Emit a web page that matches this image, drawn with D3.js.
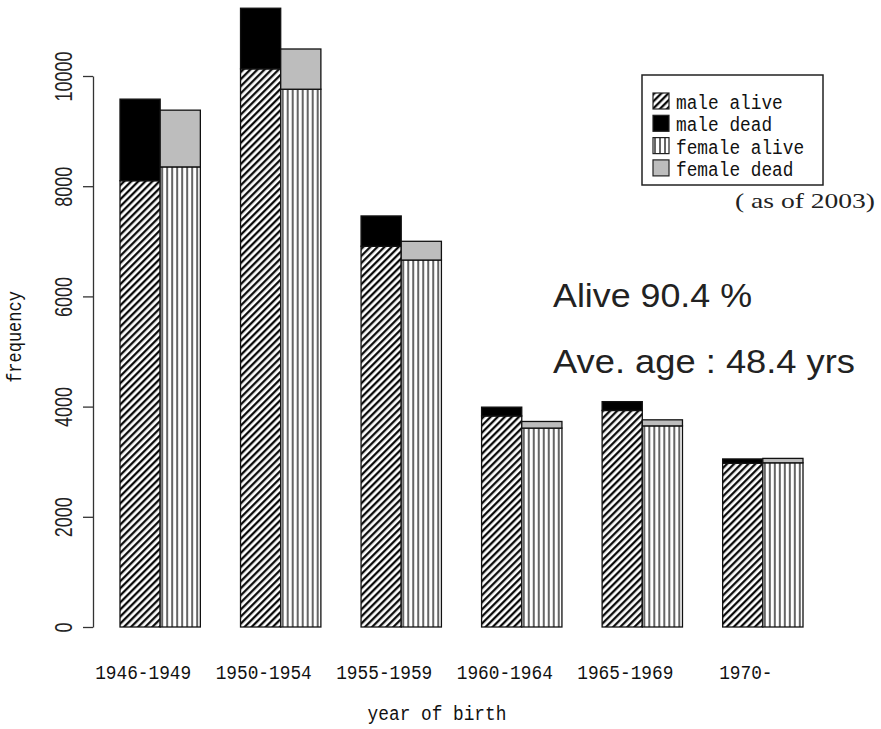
<!DOCTYPE html>
<html>
<head>
<meta charset="utf-8">
<script src="https://cdn.jsdelivr.net/npm/d3@7"></script>
<style>
  body { margin: 0; background: #fff; }
  svg { display: block; }
  .mono { font-family: "Liberation Mono", "DejaVu Sans Mono", monospace; fill: #111; }
  .sans { font-family: "Liberation Sans", Arial, sans-serif; fill: #222; }
</style>
</head>
<body>
<svg id="chart" width="881" height="729"></svg>
<script>
/*
  Birth cohort bar chart: male / female, alive / dead, stacked side by side
*/
const categories = ['1946-1949', '1950-1954', '1955-1959', '1960-1964', '1965-1969', '1970-'];
const maleAlive = [8100, 10130, 6910, 3830, 3930, 2970];
const maleDead = [1480, 1100, 550, 160, 160, 80];
const femaleAlive = [8350, 9760, 6660, 3610, 3650, 2980];
const femaleDead = [1030, 730, 340, 120, 110, 80];
const yTicks = [0, 2000, 4000, 6000, 8000, 10000];
const legendLabels = ['male alive', 'male dead', 'female alive', 'female dead'];
const legendFills = ['url(#diag)', '#000', 'url(#vert)', '#bdbdbd'];

const svg = d3.select('#chart');

// patterns for the hatched segments
const defs = svg.append('defs');
defs.append('pattern')
    .attr('id', 'diag')
    .attr('patternUnits', 'userSpaceOnUse')
    .attr('width', 5).attr('height', 10)
    .attr('patternTransform', 'rotate(45)')
  .call(p => p.append('rect').attr('width', 5).attr('height', 10).attr('fill', '#fff'))
  .append('line')
    .attr('x1', 1.2).attr('x2', 1.2).attr('y1', 0).attr('y2', 10)
    .attr('stroke', '#000').attr('stroke-width', 2.2);

defs.append('pattern')
    .attr('id', 'vert')
    .attr('patternUnits', 'userSpaceOnUse')
    .attr('width', 5).attr('height', 10)
  .call(p => p.append('rect').attr('width', 5).attr('height', 10).attr('fill', '#fff'))
  .append('line')
    .attr('x1', 2).attr('x2', 2).attr('y1', 0).attr('y2', 10)
    .attr('stroke', '#333').attr('stroke-width', 1.5);

/**
 * Scales
 */
const scale = {};
scale.x = d3.scaleBand()
    .domain(categories)
    .range([120, 803])
    .paddingInner(1 / 3)
    .paddingOuter(0);

scale.sub = d3.scaleBand()
    .domain(['male', 'female'])
    .range([0, scale.x.bandwidth()]);

scale.y = d3.scaleLinear()
    .domain([0, 10000])
    .range([627, 76]);

/**
 * Bars: alive at the bottom, dead stacked on top
 */
const rows = categories.map((c, i) => ({
  cat: c,
  bars: [
    { sex: 'male', alive: maleAlive[i], dead: maleDead[i], fa: 'url(#diag)', fd: '#000' },
    { sex: 'female', alive: femaleAlive[i], dead: femaleDead[i], fa: 'url(#vert)', fd: '#bdbdbd' }
  ]
}));

const groups = svg.append('g').selectAll('g')
  .data(rows)
  .join('g')
    .attr('transform', d => `translate(${scale.x(d.cat)},0)`);

const bar = groups.selectAll('g')
  .data(d => d.bars)
  .join('g')
    .attr('transform', d => `translate(${scale.sub(d.sex)},0)`);

bar.append('rect')
    .attr('x', 0)
    .attr('width', scale.sub.bandwidth())
    .attr('y', d => scale.y(d.alive))
    .attr('height', d => scale.y(0) - scale.y(d.alive))
    .attr('fill', d => d.fa)
    .attr('stroke', '#111')
    .attr('stroke-width', 1.3);

bar.append('rect')
    .attr('x', 0)
    .attr('width', scale.sub.bandwidth())
    .attr('y', d => scale.y(d.alive + d.dead))
    .attr('height', d => scale.y(d.alive) - scale.y(d.alive + d.dead))
    .attr('fill', d => d.fd)
    .attr('stroke', '#111')
    .attr('stroke-width', 1.3);

/**
 * Y axis with rotated labels
 */
const yAxis = svg.append('g')
    .attr('transform', 'translate(93,0)')
    .call(d3.axisLeft(scale.y)
      .tickValues(yTicks)
      .tickSize(10)
      .tickSizeOuter(0)
      .tickFormat(d3.format('d')));

yAxis.select('.domain').attr('stroke', '#333').attr('stroke-width', 1.3);
yAxis.selectAll('.tick line').attr('stroke', '#333').attr('stroke-width', 1.3);
yAxis.selectAll('.tick text')
    .attr('class', 'sans')
    .attr('x', null).attr('dy', null)
    .attr('text-anchor', 'middle')
    .attr('font-size', 18)
    .attr('transform', 'translate(-21,0) rotate(-90) scale(1,1.35)');

// x category labels (sit a bit left of the group centres, as in the source)
svg.append('g').selectAll('text')
  .data(categories)
  .join('text')
    .attr('class', 'mono')
    .attr('transform', d => `translate(${scale.x(d) + scale.x.bandwidth() / 2 - 17},679) scale(1,1.15)`)
    .attr('text-anchor', 'middle')
    .attr('font-size', 17.8)
    .text(d => d);

svg.append('text')
    .attr('class', 'mono')
    .attr('transform', 'translate(437,720) scale(1,1.15)')
    .attr('text-anchor', 'middle')
    .attr('font-size', 17.8)
    .text('year of birth');

svg.append('text')
    .attr('class', 'mono')
    .attr('transform', 'translate(21,337) rotate(-90) scale(1,1.15)')
    .attr('text-anchor', 'middle')
    .attr('font-size', 17)
    .text('frequency');

/**
 * Legend
 */
const legend = svg.append('g');
legend.append('rect')
    .attr('x', 642).attr('y', 75)
    .attr('width', 181).attr('height', 110)
    .attr('fill', '#fff')
    .attr('stroke', '#222')
    .attr('stroke-width', 1.5);

const item = legend.selectAll('g')
  .data(legendLabels)
  .join('g')
    .attr('transform', (d, i) => `translate(653,${93 + i * 22.3})`);

item.append('rect')
    .attr('width', 16).attr('height', 16)
    .attr('fill', (d, i) => legendFills[i])
    .attr('stroke', '#222')
    .attr('stroke-width', 1.2);

item.append('text')
    .attr('class', 'mono')
    .attr('transform', 'translate(23,16) scale(1,1.15)')
    .attr('font-size', 17.8)
    .text(d => d);

svg.append('text')
    .attr('x', 735).attr('y', 208)
    .attr('font-family', '"Liberation Serif", "Times New Roman", serif')
    .attr('font-size', 22)
    .attr('fill', '#222')
    .attr('textLength', 140)
    .attr('lengthAdjust', 'spacingAndGlyphs')
    .text('( as of 2003)');

// summary annotations
svg.append('text')
    .attr('class', 'sans')
    .attr('x', 553).attr('y', 307)
    .attr('font-size', 33)
    .attr('textLength', 199)
    .attr('lengthAdjust', 'spacingAndGlyphs')
    .text('Alive 90.4 %');

svg.append('text')
    .attr('class', 'sans')
    .attr('x', 553).attr('y', 373)
    .attr('font-size', 33)
    .attr('textLength', 302)
    .attr('lengthAdjust', 'spacingAndGlyphs')
    .text('Ave. age : 48.4 yrs');
</script>
</body>
</html>
